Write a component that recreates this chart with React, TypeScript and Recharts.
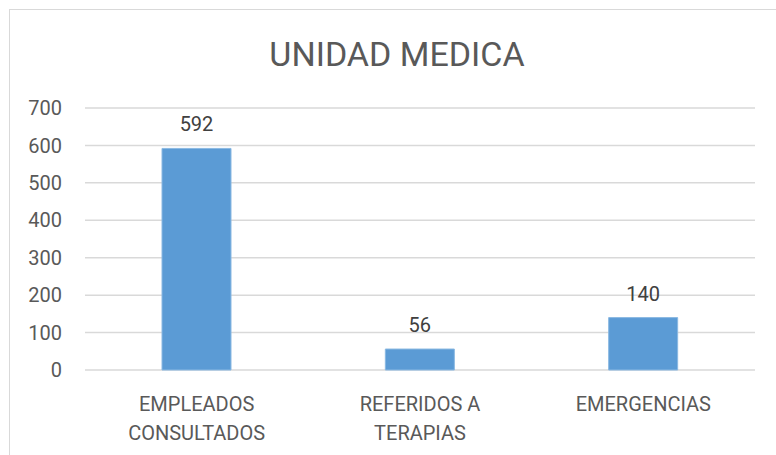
import { Bar, BarChart, CartesianGrid, LabelList, XAxis, YAxis } from "recharts";

const categories = ["EMPLEADOS\nCONSULTADOS", "REFERIDOS A\nTERAPIAS", "EMERGENCIAS"];
const values = [592, 56, 140];
const yTicks = [0, 100, 200, 300, 400, 500, 600, 700];

const data = categories.map((name, i) => ({ name, value: values[i] }));

const textColor = "#595959";
const font = "Roboto, 'Liberation Sans', sans-serif";

function CategoryTick(props: any) {
  const { x, y, payload } = props;
  const lines = String(payload.value).split("\n");
  return (
    <text
      x={x}
      y={y}
      textAnchor="middle"
      fill={textColor}
      fontSize={20}
      fontFamily={font}
    >
      {lines.map((line, i) => (
        <tspan key={i} x={x} dy={i === 0 ? 33 : 29}>
          {line}
        </tspan>
      ))}
    </text>
  );
}

export default function App() {
  return (
    <div
      style={{
        position: "absolute",
        left: 9,
        top: 9,
        width: 767,
        height: 446,
        boxSizing: "border-box",
        borderTop: "1px solid #d9d9d9",
        borderLeft: "1px solid #d9d9d9",
        background: "#fff",
        fontFamily: font,
      }}
    >
      <div
        style={{
          position: "absolute",
          left: 4,
          top: 27,
          width: 766,
          textAlign: "center",
          fontSize: 34,
          lineHeight: "34px",
          color: textColor,
        }}
      >
        UNIDAD MEDICA
      </div>
      <BarChart
        width={766}
        height={445}
        data={data}
        margin={{ top: 98, right: 21, left: 0, bottom: 0 }}
      >
        <CartesianGrid vertical={false} stroke="#d9d9d9" strokeWidth={1.5} />
        <XAxis
          dataKey="name"
          height={85}
          axisLine={false}
          tickLine={false}
          interval={0}
          tick={<CategoryTick />}
        />
        <YAxis
          width={75}
          domain={[0, 700]}
          ticks={yTicks}
          axisLine={false}
          tickLine={false}
          tickMargin={17}
          tick={{ fill: textColor, fontSize: 20, fontFamily: font }}
        />
        <Bar
          dataKey="value"
          fill="#5b9bd5"
          stroke="#8ab8e2"
          strokeWidth={1}
          barSize={69}
          isAnimationActive={false}
        >
          <LabelList
            dataKey="value"
            position="top"
            offset={17}
            fill="#404040"
            fontSize={20}
            fontFamily={font}
          />
        </Bar>
      </BarChart>
    </div>
  );
}
